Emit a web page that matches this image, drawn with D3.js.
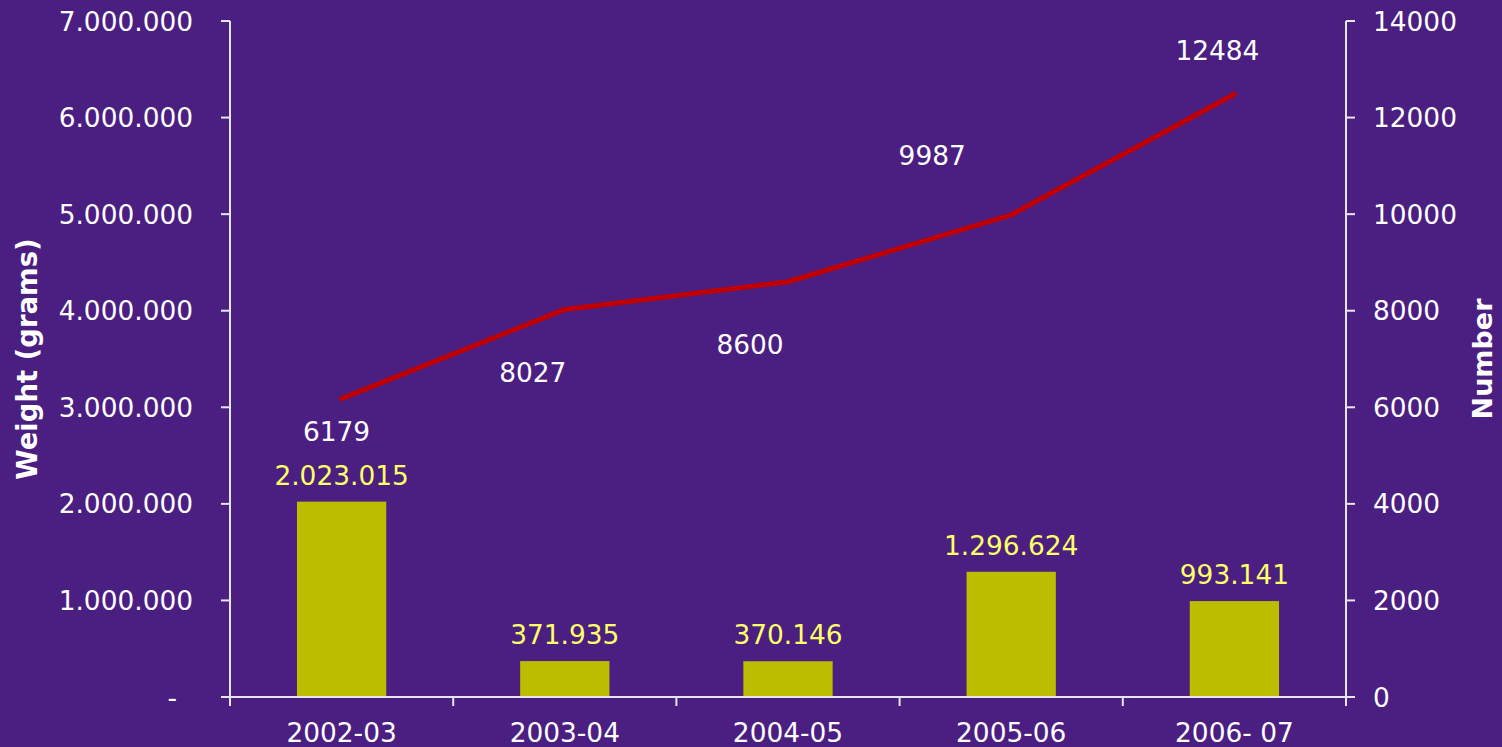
<!DOCTYPE html>
<html>
<head>
<meta charset="utf-8">
<script src="https://cdn.jsdelivr.net/npm/d3@7"></script>
<style>
html,body{margin:0;padding:0;background:#4B1E82;}
svg{display:block;}
text{font-family:"DejaVu Sans",Verdana,sans-serif;}
</style>
</head>
<body>
<svg id="chart" width="1502" height="747"></svg>
<script>
const categories = ["2002-03", "2003-04", "2004-05", "2005-06", "2006- 07"];
const weightGrams = [2023015, 371935, 370146, 1296624, 993141];
const numberSeized = [6179, 8027, 8600, 9987, 12484];
const weightLabels = ["2.023.015", "371.935", "370.146", "1.296.624", "993.141"];
const leftTicks = [0, 1000000, 2000000, 3000000, 4000000, 5000000, 6000000, 7000000];
const leftTickLabels = ["-", "1.000.000", "2.000.000", "3.000.000", "4.000.000", "5.000.000", "6.000.000", "7.000.000"];
const rightTicks = [0, 2000, 4000, 6000, 8000, 10000, 12000, 14000];
// manual label offsets for line labels (style, not data)
const lineLabelOffsets = [[-5, 42], [-32, 73], [-38, 72], [-79, -50], [-17, -34]];

const svg = d3.select("#chart");
const W = 1502, H = 747;
svg.append("rect").attr("width", W).attr("height", H).attr("fill", "#4B1E82");

const pLeft = 230, pRight = 1346, pTop = 21, pBottom = 697;
const axisColor = "#E6E6EE";
const fs = 26.4;

const x = d3.scaleBand().domain(categories).range([pLeft, pRight]).padding(0);
const yL = d3.scaleLinear().domain([0, 7000000]).range([pBottom, pTop]);
const yR = d3.scaleLinear().domain([0, 14000]).range([pBottom, pTop]);
const bw = x.bandwidth();

// bars
svg.append("g").selectAll("rect").data(categories).join("rect")
  .attr("x", d => x(d) + bw * 0.3)
  .attr("width", bw * 0.4)
  .attr("y", (d, i) => yL(weightGrams[i]))
  .attr("height", (d, i) => pBottom - yL(weightGrams[i]))
  .attr("fill", "#BDBD00");

// bar labels
svg.append("g").selectAll("text").data(categories).join("text")
  .attr("x", d => x(d) + bw / 2)
  .attr("y", (d, i) => yL(weightGrams[i]) - 17)
  .attr("text-anchor", "middle")
  .attr("font-size", fs)
  .attr("fill", "#FFFF66")
  .text((d, i) => weightLabels[i]);

// left axis
const gL = svg.append("g");
gL.append("line").attr("x1", pLeft).attr("x2", pLeft).attr("y1", pTop).attr("y2", pBottom + 9)
  .attr("stroke", axisColor).attr("stroke-width", 2);
gL.selectAll("line.t").data(leftTicks).join("line").attr("class", "t")
  .attr("x1", pLeft - 9).attr("x2", pLeft).attr("y1", d => yL(d)).attr("y2", d => yL(d))
  .attr("stroke", axisColor).attr("stroke-width", 2);
gL.selectAll("text").data(leftTicks).join("text")
  .attr("x", (d, i) => i === 0 ? 177 : 193)
  .attr("y", d => yL(d))
  .attr("dy", "0.36em")
  .attr("text-anchor", "end")
  .attr("font-size", fs)
  .attr("fill", "#FFFFFF")
  .text((d, i) => leftTickLabels[i]);

// right axis
const gR = svg.append("g");
gR.append("line").attr("x1", pRight).attr("x2", pRight).attr("y1", pTop).attr("y2", pBottom + 9)
  .attr("stroke", axisColor).attr("stroke-width", 2);
gR.selectAll("line.t").data(rightTicks).join("line").attr("class", "t")
  .attr("x1", pRight).attr("x2", pRight + 9).attr("y1", d => yR(d)).attr("y2", d => yR(d))
  .attr("stroke", axisColor).attr("stroke-width", 2);
gR.selectAll("text").data(rightTicks).join("text")
  .attr("x", 1373)
  .attr("y", d => yR(d))
  .attr("dy", "0.36em")
  .attr("text-anchor", "start")
  .attr("font-size", fs)
  .attr("fill", "#FFFFFF")
  .text(d => String(d));

// bottom axis
const gB = svg.append("g");
gB.append("line").attr("x1", pLeft - 9).attr("x2", pRight + 9).attr("y1", pBottom).attr("y2", pBottom)
  .attr("stroke", axisColor).attr("stroke-width", 2);
const bounds = categories.map(c => x(c)).concat([x(categories[categories.length - 1]) + bw]);
gB.selectAll("line.t").data(bounds).join("line").attr("class", "t")
  .attr("x1", d => d).attr("x2", d => d).attr("y1", pBottom).attr("y2", pBottom + 9)
  .attr("stroke", axisColor).attr("stroke-width", 2);
gB.selectAll("text").data(categories).join("text")
  .attr("x", d => x(d) + bw / 2)
  .attr("y", 742)
  .attr("text-anchor", "middle")
  .attr("font-size", fs)
  .attr("fill", "#FFFFFF")
  .text(d => d);

// line
const line = d3.line()
  .x((d, i) => x(categories[i]) + bw / 2)
  .y(d => yR(d));
svg.append("path").datum(numberSeized)
  .attr("d", line)
  .attr("fill", "none")
  .attr("stroke", "#C00000")
  .attr("stroke-width", 5)
  .attr("stroke-linecap", "round")
  .attr("stroke-linejoin", "round");

// line labels
svg.append("g").selectAll("text").data(numberSeized).join("text")
  .attr("x", (d, i) => x(categories[i]) + bw / 2 + lineLabelOffsets[i][0])
  .attr("y", (d, i) => yR(d) + lineLabelOffsets[i][1])
  .attr("text-anchor", "middle")
  .attr("font-size", fs)
  .attr("fill", "#FFFFFF")
  .text(d => String(d));

// axis titles
svg.append("text")
  .attr("transform", `translate(37,${(pTop + pBottom) / 2}) rotate(-90)`)
  .attr("text-anchor", "middle")
  .attr("font-size", 27.5)
  .attr("font-weight", "bold")
  .attr("fill", "#FFFFFF")
  .text("Weight (grams)");
svg.append("text")
  .attr("transform", `translate(1492,${(pTop + pBottom) / 2}) rotate(-90)`)
  .attr("text-anchor", "middle")
  .attr("font-size", 27)
  .attr("font-weight", "bold")
  .attr("fill", "#FFFFFF")
  .text("Number");
</script>
</body>
</html>
